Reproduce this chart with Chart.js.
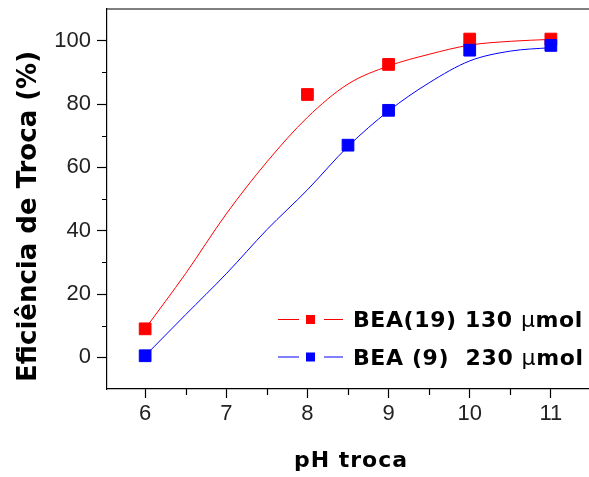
<!DOCTYPE html>
<html>
<head>
<meta charset="utf-8">
<script src="https://cdn.jsdelivr.net/npm/chart.js@4/dist/chart.umd.min.js"></script>
<style>
  html, body { margin: 0; padding: 0; background: #fff; }
  #wrap { width: 589px; height: 477px; position: relative; }
</style>
</head>
<body>
<div id="wrap"><canvas id="c" width="589" height="477"></canvas></div>
<script>
// ---- data ----
const redLabel = "BEA(19) 130 μmol";
const blueLabel = "BEA (9)  230 μmol";
const redX = [6, 8, 9, 10, 11];
const redY = [9, 83, 92.5, 100.5, 100.5];
const blueX = [6, 8.5, 9, 10, 11];
const blueY = [0.5, 67, 78, 97, 98.5];
// fitted curves
const fitX = [6, 6.5, 7, 7.5, 8, 8.5, 9, 9.5, 10, 10.5, 11];
const redFit = [9, 26.5, 45.3, 61.7, 75.8, 86.3, 92, 95.7, 98.6, 99.8, 100.4];
const blueFit = [0.5, 13.5, 26.4, 40.3, 52.9, 66.6, 77.8, 86.7, 93.6, 96.7, 97.8];
// axis ticks
const xTicks = [6, 7, 8, 9, 10, 11];
const xMinor = [6.5, 7.5, 8.5, 9.5, 10.5];
const yTicks = [0, 20, 40, 60, 80, 100];
const yMinor = [10, 30, 50, 70, 90];
const xTitle = "pH troca";
const yTitle = "Eficiência de Troca (%)";

const RED = '#ff0000', BLUE = '#0000ff';
const pts = (xs, ys) => xs.map((x, i) => ({x: x, y: ys[i]}));

const framePlugin = {
  id: 'frame',
  afterDraw(chart) {
    const ctx = chart.ctx, a = chart.chartArea;
    const xs = chart.scales.x, ys = chart.scales.y;
    ctx.save();
    ctx.strokeStyle = '#000';
    ctx.lineWidth = 1.2;
    ctx.beginPath();
    ctx.moveTo(a.left, a.top); ctx.lineTo(a.right, a.top);
    ctx.stroke();
    // minor ticks
    ctx.beginPath();
    yMinor.forEach(v => { const p = Math.round(ys.getPixelForValue(v)) + 0.5; ctx.moveTo(a.left - 5, p); ctx.lineTo(a.left, p); });
    xMinor.forEach(v => { const p = Math.round(xs.getPixelForValue(v)) + 0.5; ctx.moveTo(p, a.bottom); ctx.lineTo(p, a.bottom + 6); });
    ctx.stroke();
    // axis titles
    ctx.fillStyle = '#000';
    ctx.font = 'bold 26px "DejaVu Sans"';
    ctx.textAlign = 'center';
    ctx.textBaseline = 'alphabetic';
    ctx.save();
    ctx.translate(35.5, 216.5);
    ctx.rotate(-Math.PI / 2);
    ctx.fillText(yTitle, 0, 0);
    ctx.restore();
    ctx.font = 'bold 22px "DejaVu Sans"';
    ctx.letterSpacing = '1px';
    ctx.fillText(xTitle, 351, 467);
    ctx.letterSpacing = '0px';
    // legend
    const rows = [
      {label: chart.data.datasets[2].label, color: RED, y: 319.5},
      {label: chart.data.datasets[3].label, color: BLUE, y: 357}
    ];
    rows.forEach(r => {
      ctx.strokeStyle = r.color; ctx.lineWidth = 1;
      ctx.beginPath();
      ctx.moveTo(278, r.y); ctx.lineTo(299, r.y);
      ctx.moveTo(324, r.y); ctx.lineTo(343, r.y);
      ctx.stroke();
      ctx.fillStyle = r.color;
      ctx.fillRect(306, r.y - 4.5, 9, 9);
      ctx.fillStyle = '#000';
      ctx.textAlign = 'left';
      ctx.letterSpacing = '0.6px';
      const parts = r.label.split('μ');
      let x = 353;
      const base = r.y + 7.5;
      ctx.font = 'bold 22px "DejaVu Sans"';
      ctx.fillText(parts[0], x, base);
      x += ctx.measureText(parts[0]).width;
      ctx.font = '22px "DejaVu Sans"';
      ctx.fillText('μ', x, base);
      x += ctx.measureText('μ').width;
      ctx.font = 'bold 22px "DejaVu Sans"';
      ctx.fillText(parts[1], x, base);
      ctx.letterSpacing = '0px';
    });
    ctx.restore();
  }
};

new Chart(document.getElementById('c'), {
  type: 'scatter',
  data: {
    datasets: [
      {label: 'fit red', data: pts(fitX, redFit), showLine: true, borderColor: RED, borderWidth: 1,
       pointRadius: 0, cubicInterpolationMode: 'monotone', order: 3},
      {label: 'fit blue', data: pts(fitX, blueFit), showLine: true, borderColor: BLUE, borderWidth: 1,
       pointRadius: 0, cubicInterpolationMode: 'monotone', order: 2},
      {label: redLabel, data: pts(redX, redY), pointStyle: 'rect', pointRadius: 8.3, borderWidth: 1,
       backgroundColor: RED, borderColor: RED, order: 1},
      {label: blueLabel, data: pts(blueX, blueY), pointStyle: 'rect', pointRadius: 8.3, borderWidth: 1,
       backgroundColor: BLUE, borderColor: BLUE, order: 0}
    ]
  },
  options: {
    responsive: false,
    animation: false,
    layout: {autoPadding: false, padding: {top: 9, right: 0, left: 0, bottom: 0}},
    plugins: {legend: {display: false}, tooltip: {enabled: false}},
    elements: {point: {hoverRadius: 8.3}},
    scales: {
      x: {
        type: 'linear', min: 5.53, max: 11.47,
        afterBuildTicks: s => { s.ticks = xTicks.map(v => ({value: v})); },
        afterFit: s => { s.height = 88; s.paddingLeft = 0; s.paddingRight = 0; },
        border: {display: true, color: '#000', width: 1.2},
        grid: {drawOnChartArea: false, drawTicks: true, tickLength: 9, tickColor: '#000', tickWidth: 1.2},
        ticks: {font: {family: '"Liberation Sans"', size: 22}, color: '#222', padding: 3, maxRotation: 0}
      },
      y: {
        type: 'linear', min: -10, max: 110,
        afterBuildTicks: s => { s.ticks = yTicks.map(v => ({value: v})); },
        afterFit: s => { s.width = 107; s.paddingTop = 0; s.paddingBottom = 0; },
        border: {display: true, color: '#000', width: 1.2},
        grid: {drawOnChartArea: false, drawTicks: true, tickLength: 10, tickColor: '#000', tickWidth: 1.2},
        ticks: {font: {family: '"Liberation Sans"', size: 22}, color: '#222', padding: 6}
      }
    }
  },
  plugins: [framePlugin]
});
</script>
</body>
</html>
